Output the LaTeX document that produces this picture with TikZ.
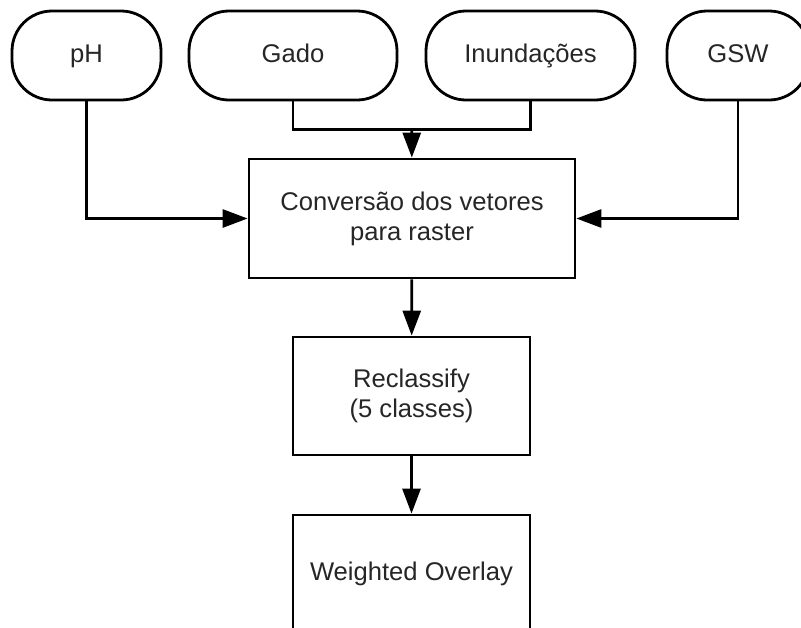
\documentclass[tikz,border=0pt]{standalone}
\usepackage{fontspec}
\setmainfont{Liberation Sans}
\usetikzlibrary{arrows.meta}
\usetikzlibrary{calc}

\tikzset{
    fonte/.style={rounded corners=20pt, draw, line width=1.4pt, fill=white,
        minimum height=44.5pt, inner sep=2pt, text=black!85,
        text height=9.3pt, text depth=2.6pt},
    etapa/.style={draw, line width=1.4pt, fill=white, align=center,
        inner sep=2pt, text=black!85},
    fluxo/.style={line width=1.4pt, -{Triangle[length=12.5pt, width=9pt]}},
    ligacao/.style={line width=1.4pt},
}

\begin{document}
\begin{tikzpicture}[x=0.5pt, y=-0.5pt, font=\fontsize{12.8}{15}\selectfont]
            \useasboundingbox (0,0) rectangle (801,627);
            \fill[white] (0,0) rectangle (801,627);

            % fontes de dados
            \node[fonte, minimum width=74.5pt] (ph) at (86.5,55.5) {pH};
            \node[fonte, minimum width=104pt] (gado) at (293,55.5) {Gado};
            \node[fonte, minimum width=104.5pt] (inund) at (530.5,55.5) {Inundações};
            \node[fonte, minimum width=71pt] (gsw) at (738,55.5) {GSW};

            % etapas
            \node[etapa, minimum width=163pt, minimum height=59.5pt] (conv) at (412,218.5)
                {Conversão dos vetores\\para raster};
            \node[etapa, minimum width=118.5pt, minimum height=59pt] (recl) at (411.5,396)
                {Reclassify\\(5 classes)};
            \node[etapa, minimum width=118.5pt, minimum height=58.5pt] (wo) at (411.5,573.5)
                {Weighted Overlay};

            \coordinate (juncao) at ($(gado.south)!0.5!(inund.south)+(0,28)$);
            \draw[ligacao] (gado.south) |- (juncao) -| (inund.south);
            \draw[fluxo] (juncao) -- (conv);
            \draw[fluxo] (ph) |- (conv);
            \draw[fluxo] (gsw) |- (conv);
            \draw[fluxo] (conv) -- (recl);
            \draw[fluxo] (recl) -- (wo);
        \end{tikzpicture}
\end{document}
